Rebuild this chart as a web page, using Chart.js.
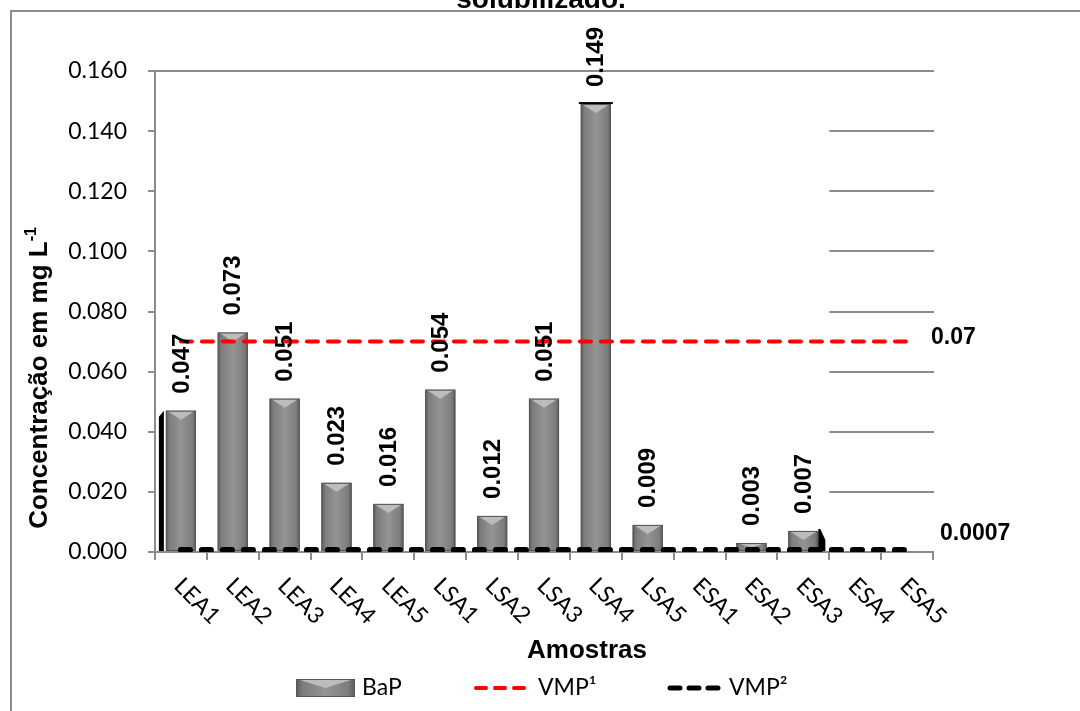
<!DOCTYPE html>
<html>
<head>
<meta charset="utf-8">
<script src="https://cdn.jsdelivr.net/npm/chart.js@4.4.0/dist/chart.umd.min.js"></script>
<style>
    html, body { margin: 0; padding: 0; background: #fff; }
    #myChart { display: block; }
</style>
</head>
<body>
<canvas id="myChart" width="1080" height="711"></canvas>
<script>
// chart data
var samples = ["LEA1", "LEA2", "LEA3", "LEA4", "LEA5", "LSA1", "LSA2", "LSA3", "LSA4", "LSA5", "ESA1", "ESA2", "ESA3", "ESA4", "ESA5"];
var bapValues = [0.047, 0.073, 0.051, 0.023, 0.016, 0.054, 0.012, 0.051, 0.149, 0.009, null, 0.003, 0.007, null, null];
var vmp1Values = [0.07, 0.07, 0.07, 0.07, 0.07, 0.07, 0.07, 0.07, 0.07, 0.07, 0.07, 0.07, 0.07, 0.07, 0.07];
var vmp2Values = [0.0007, 0.0007, 0.0007, 0.0007, 0.0007, 0.0007, 0.0007, 0.0007, 0.0007, 0.0007, 0.0007, 0.0007, 0.0007, 0.0007, 0.0007];
var yTickLabels = ["0.000", "0.020", "0.040", "0.060", "0.080", "0.100", "0.120", "0.140", "0.160"];
var seriesNames = ["BaP", "VMP\u00B9", "VMP\u00B2"];
var endLabels = ["0.07", "0.0007"];

var gray = "#8c8c8c";
var boldFont = "'Liberation Sans', Arial, sans-serif";
var lightFont = "Lato, 'Open Sans', sans-serif";

// little helper for the bevelled excel look
function bevelBar(ctx, left, right, top, bottom) {
    var g = ctx.createLinearGradient(left, 0, right, 0);
    g.addColorStop(0, "#5c5c5c");
    g.addColorStop(0.12, "#7d7d7d");
    g.addColorStop(0.5, "#949494");
    g.addColorStop(0.88, "#7d7d7d");
    g.addColorStop(1, "#5c5c5c");
    ctx.fillStyle = g;
    ctx.fillRect(left, top, right - left, bottom - top);
    var bh = Math.min(9, (bottom - top) * 0.6);
    ctx.beginPath();
    ctx.moveTo(left + 1, top);
    ctx.lineTo(right - 1, top);
    ctx.lineTo((left + right) / 2, top + bh);
    ctx.closePath();
    ctx.fillStyle = "#bcbcbc";
    ctx.fill();
    ctx.strokeStyle = "#555";
    ctx.lineWidth = 1;
    ctx.strokeRect(left + 0.5, top + 0.5, right - left - 1, bottom - top - 1);
}

var excelBits = {
    id: "excelBits",
    beforeDraw: function (chart) {
        var ctx = chart.ctx;
        ctx.save();
        ctx.fillStyle = "#fff";
        ctx.fillRect(0, 0, chart.width, chart.height);
        // outer frame (only top and left show)
        ctx.strokeStyle = gray;
        ctx.lineWidth = 2;
        ctx.beginPath();
        ctx.moveTo(11, chart.height);
        ctx.lineTo(11, 11);
        ctx.lineTo(chart.width, 11);
        ctx.stroke();
        // title, cut by the top edge
        ctx.fillStyle = "#000";
        ctx.font = "bold 28px " + boldFont;
        ctx.textAlign = "center";
        ctx.textBaseline = "alphabetic";
        ctx.fillText("solubilizado.", 541, 8);
        ctx.restore();
    },
    beforeDatasetsDraw: function (chart) {
        var ctx = chart.ctx, area = chart.chartArea;
        var y = chart.scales.y, x = chart.scales.x;
        var gridStart = (x.getPixelForValue(12) + x.getPixelForValue(13)) / 2;
        ctx.save();
        ctx.strokeStyle = gray;
        ctx.lineWidth = 2;
        y.ticks.forEach(function (t, i) {
            if (i === 0) return;
            var py = Math.round(y.getPixelForValue(t.value));
            ctx.beginPath();
            ctx.moveTo(i === y.ticks.length - 1 ? area.left - 7 : gridStart, py);
            ctx.lineTo(area.right + 1, py);
            ctx.stroke();
        });
        ctx.restore();
    },
    afterDatasetDraw: function (chart, args) {
        if (args.index !== 0) return;
        var ctx = chart.ctx;
        ctx.save();
        args.meta.data.forEach(function (bar, i) {
            if (bapValues[i] == null) return;
            var left = bar.x - bar.width / 2, right = bar.x + bar.width / 2;
            var top = bar.y, bottom = bar.base;
            bevelBar(ctx, left, right, top, bottom);
            ctx.fillStyle = "#000";
            if (i === 0) { // dark side on the first bar
                ctx.beginPath();
                ctx.moveTo(left - 7, top + 6);
                ctx.lineTo(left - 2, top);
                ctx.lineTo(left - 2, bottom);
                ctx.lineTo(left - 7, bottom);
                ctx.closePath();
                ctx.fill();
            }
            if (i === 12) {
                ctx.beginPath();
                ctx.moveTo(right, top - 2);
                ctx.lineTo(right + 2, top - 2);
                ctx.lineTo(right + 7, top + 9);
                ctx.lineTo(right + 7, bottom);
                ctx.lineTo(right, bottom);
                ctx.closePath();
                ctx.fill();
            }
            if (i === 8) {
                ctx.fillRect(left - 2, top - 2, right - left + 4, 2);
            }
        });
        ctx.restore();
    },
    afterDatasetsDraw: function (chart) {
        var ctx = chart.ctx, area = chart.chartArea;
        var x = chart.scales.x, y = chart.scales.y;
        var barMeta = chart.getDatasetMeta(0);
        ctx.save();
        ctx.fillStyle = "#000";

        // value labels, rotated
        ctx.font = "bold 24px " + boldFont;
        ctx.textAlign = "left";
        ctx.textBaseline = "middle";
        barMeta.data.forEach(function (bar, i) {
            if (bapValues[i] == null) return;
            ctx.save();
            ctx.translate(bar.x + 1, bar.y - 17);
            ctx.rotate(-Math.PI / 2);
            ctx.fillText(bapValues[i].toFixed(3), 0, 0);
            ctx.restore();
        });

        // labels at the end of the limit lines
        ctx.font = "bold 23px " + boldFont;
        ctx.fillText(endLabels[0], area.right - 2, y.getPixelForValue(vmp1Values[14]) - 4);
        ctx.fillText(endLabels[1], area.right + 7, y.getPixelForValue(vmp2Values[14]) - 16);

        // category labels at 45 degrees
        ctx.font = "23px " + lightFont;
        ctx.textAlign = "left";
        ctx.textBaseline = "middle";
        samples.forEach(function (s, i) {
            ctx.save();
            ctx.translate(x.getPixelForValue(i) - 3, area.bottom + 30);
            ctx.rotate(Math.PI / 4);
            ctx.fillText(s, 0, 0);
            ctx.restore();
        });

        // axis titles
        ctx.font = "bold 26px " + boldFont;
        ctx.textAlign = "center";
        ctx.textBaseline = "alphabetic";
        ctx.fillText("Amostras", 587, 658);

        var mainTxt = "Concentra\u00E7\u00E3o em mg L";
        var w = ctx.measureText(mainTxt).width;
        ctx.font = "bold 16px " + boldFont;
        var ws = ctx.measureText("-1").width;
        ctx.save();
        ctx.translate(47, 378);
        ctx.rotate(-Math.PI / 2);
        ctx.textAlign = "left";
        ctx.font = "bold 26px " + boldFont;
        ctx.fillText(mainTxt, -(w + ws) / 2, 0);
        ctx.font = "bold 16px " + boldFont;
        ctx.fillText("-1", -(w + ws) / 2 + w, -11);
        ctx.restore();

        // legend
        var ly = 688;
        bevelBar(ctx, 296, 355, 679, 697);
        ctx.font = "23px " + lightFont;
        ctx.textAlign = "left";
        ctx.textBaseline = "middle";
        ctx.fillStyle = "#000";
        ctx.fillText(seriesNames[0], 362, ly);
        ctx.lineCap = "round";
        ctx.lineWidth = 4;
        ctx.strokeStyle = "#ff0000";
        ctx.setLineDash([10, 9]);
        ctx.beginPath(); ctx.moveTo(476, ly); ctx.lineTo(530, ly); ctx.stroke();
        ctx.fillText(seriesNames[1], 538, ly);
        ctx.strokeStyle = "#000";
        ctx.lineWidth = 5;
        ctx.beginPath(); ctx.moveTo(670, ly); ctx.lineTo(724, ly); ctx.stroke();
        ctx.setLineDash([]);
        ctx.fillText(seriesNames[2], 729, ly);
        ctx.restore();
    }
};

new Chart(document.getElementById("myChart"), {
    type: "bar",
    data: {
        labels: samples,
        datasets: [
            {
                label: seriesNames[0],
                data: bapValues,
                backgroundColor: "#878787",
                borderWidth: 0,
                barPercentage: 0.58,
                categoryPercentage: 1,
                order: 3
            },
            {
                type: "line",
                label: seriesNames[1],
                data: vmp1Values,
                borderColor: "#ff0000",
                borderWidth: 4,
                borderDash: [11, 10],
                borderCapStyle: "round",
                pointRadius: 0,
                fill: false,
                order: 2
            },
            {
                type: "line",
                label: seriesNames[2],
                data: vmp2Values,
                borderColor: "#000000",
                borderWidth: 6,
                borderDash: [9, 12],
                borderCapStyle: "round",
                pointRadius: 0,
                fill: false,
                order: 1
            }
        ]
    },
    options: {
        responsive: false,
        devicePixelRatio: 1,
        animation: false,
        layout: { padding: { top: 71, right: 147, left: 0, bottom: 0 } },
        plugins: {
            legend: { display: false },
            title: { display: false },
            tooltip: { enabled: false }
        },
        scales: {
            x: {
                offset: true,
                grid: { display: true, drawOnChartArea: false, offset: true, tickLength: 8, color: gray, lineWidth: 2 },
                border: { color: gray, width: 2 },
                ticks: { display: false },
                afterFit: function (s) { s.height = 159; }
            },
            y: {
                min: 0,
                max: 0.16,
                ticks: {
                    stepSize: 0.02,
                    color: "#000",
                    padding: 21,
                    font: { family: "Lato", size: 23 },
                    callback: function (v, i) { return yTickLabels[i]; }
                },
                grid: { drawOnChartArea: false, tickLength: 7, color: gray, lineWidth: 2 },
                border: { color: gray, width: 2 },
                afterFit: function (s) { s.width = 155; }
            }
        }
    },
    plugins: [excelBits]
});
</script>
</body>
</html>
